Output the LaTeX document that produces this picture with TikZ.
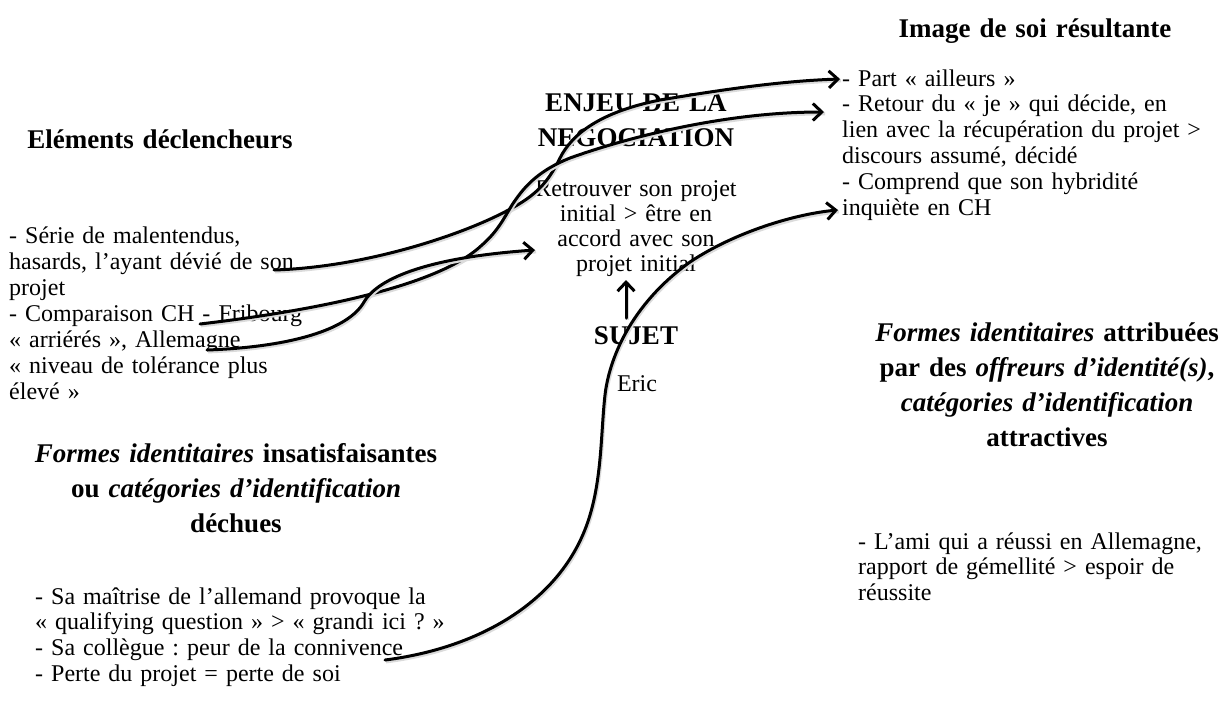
\documentclass[tikz,border=0pt]{standalone}
\usepackage{fontspec}
\setmainfont{Liberation Serif}
\usetikzlibrary{arrows.meta}
\frenchspacing
\begin{document}
\begin{tikzpicture}[x=1pt,y=-1pt,
  body/.style={font=\fontsize{24}{25.8}\selectfont, inner sep=0pt, anchor=base west, align=left, text width=420pt},
  lbody/.style={body, font=\fontsize{24}{26}\selectfont},
  cbody/.style={font=\fontsize{24}{25}\selectfont, inner sep=0pt, anchor=base, align=center, text width=300pt},
  head/.style={font=\fontsize{27}{35}\selectfont\bfseries, inner sep=0pt, anchor=base, align=center, text width=480pt},
  conn/.style={line width=3pt, line cap=round, line join=round,
    preaction={draw=black!14, line width=3.2pt, -, transform canvas={shift={(1pt,-1.8pt)}}},
    -{Straight Barb[length=9pt,width=17pt,line width=3pt]}}]
\useasboundingbox (0,0) rectangle (1231,705);

% headings
\node[head] (hleft) at (160,148) {Eléments déclencheurs};
\node[head] (henjeu) at (636,111) {ENJEU DE LA\\NEGOCIATION};
\node[head] (himage) at (1035,37) {Image de soi résultante};
\node[head] (hsujet) at (636,344) {SUJET};
\node[head] (hdech) at (236,462) {\textit{Formes identitaires} insatisfaisantes\\ou \textit{catégories d’identification}\\déchues};
\node[head] (hattr) at (1047,341) {\textit{Formes identitaires} attribuées\\par des \textit{offreurs d’identité(s)},\\\textit{catégories d’identification}\\attractives};

% texts
\node[lbody] (tdecl) at (9,243) {- Série de malentendus,\\hasards, l’ayant dévié de son\\projet\\- Comparaison CH - Fribourg\\« arriérés », Allemagne\\« niveau de tolérance plus\\élevé »};
\node[cbody] (tenjeu) at (636,196) {Retrouver son projet\\initial > être en\\accord avec son\\projet initial};
\node[cbody] (teric) at (637,391) {Eric};
\node[body] (timage) at (842,86) {- Part « ailleurs »\\- Retour du « je » qui décide, en\\lien avec la récupération du projet >\\discours assumé, décidé\\- Comprend que son hybridité\\inquiète en CH};
\node[body] (tattr) at (858,549) {- L’ami qui a réussi en Allemagne,\\rapport de gémellité > espoir de\\réussite};
\node[body] (tdech) at (35,604) {- Sa maîtrise de l’allemand provoque la\\« qualifying question » > « grandi ici ? »\\- Sa collègue : peur de la connivence\\- Perte du projet = perte de soi};

% connector end points
\coordinate (sSon) at (274,270);
\coordinate (sFri) at (200,324);
\coordinate (sAll) at (207,350);
\coordinate (sCon) at (385,660);
\coordinate (ePart) at (840,79);
\coordinate (eRet) at (824,112);
\coordinate (eAcc) at (535,250);
\coordinate (eComp) at (838,210);
\coordinate (sSuj) at (626,318);
\coordinate (eSuj) at (626,280);

% connectors
\draw[conn] (sSon) .. controls (370,267) and (470,232) .. (512,208)
  .. controls (540,193) and (550,178) .. (560,158)
  .. controls (572,134) and (600,112) .. (660,100)
  .. controls (720,90) and (780,81) .. (ePart);
\draw[conn] (sFri) .. controls (320,310) and (440,285) .. (482,245)
  .. controls (498,231) and (504,218) .. (512,205)
  .. controls (522,190) and (535,172) .. (570,158)
  .. controls (620,140) and (720,112) .. (eRet);
\draw[conn] (sAll) .. controls (290,347) and (348,330) .. (364,302)
  .. controls (376,281) and (420,258) .. (eAcc);
\draw[conn] (sCon) .. controls (480,648) and (565,600) .. (590,515)
  .. controls (602,475) and (601,430) .. (605,395)
  .. controls (609,360) and (630,305) .. (690,262)
  .. controls (735,232) and (795,214) .. (eComp);
\draw[conn] (sSuj) -- (eSuj);
\end{tikzpicture}
\end{document}
